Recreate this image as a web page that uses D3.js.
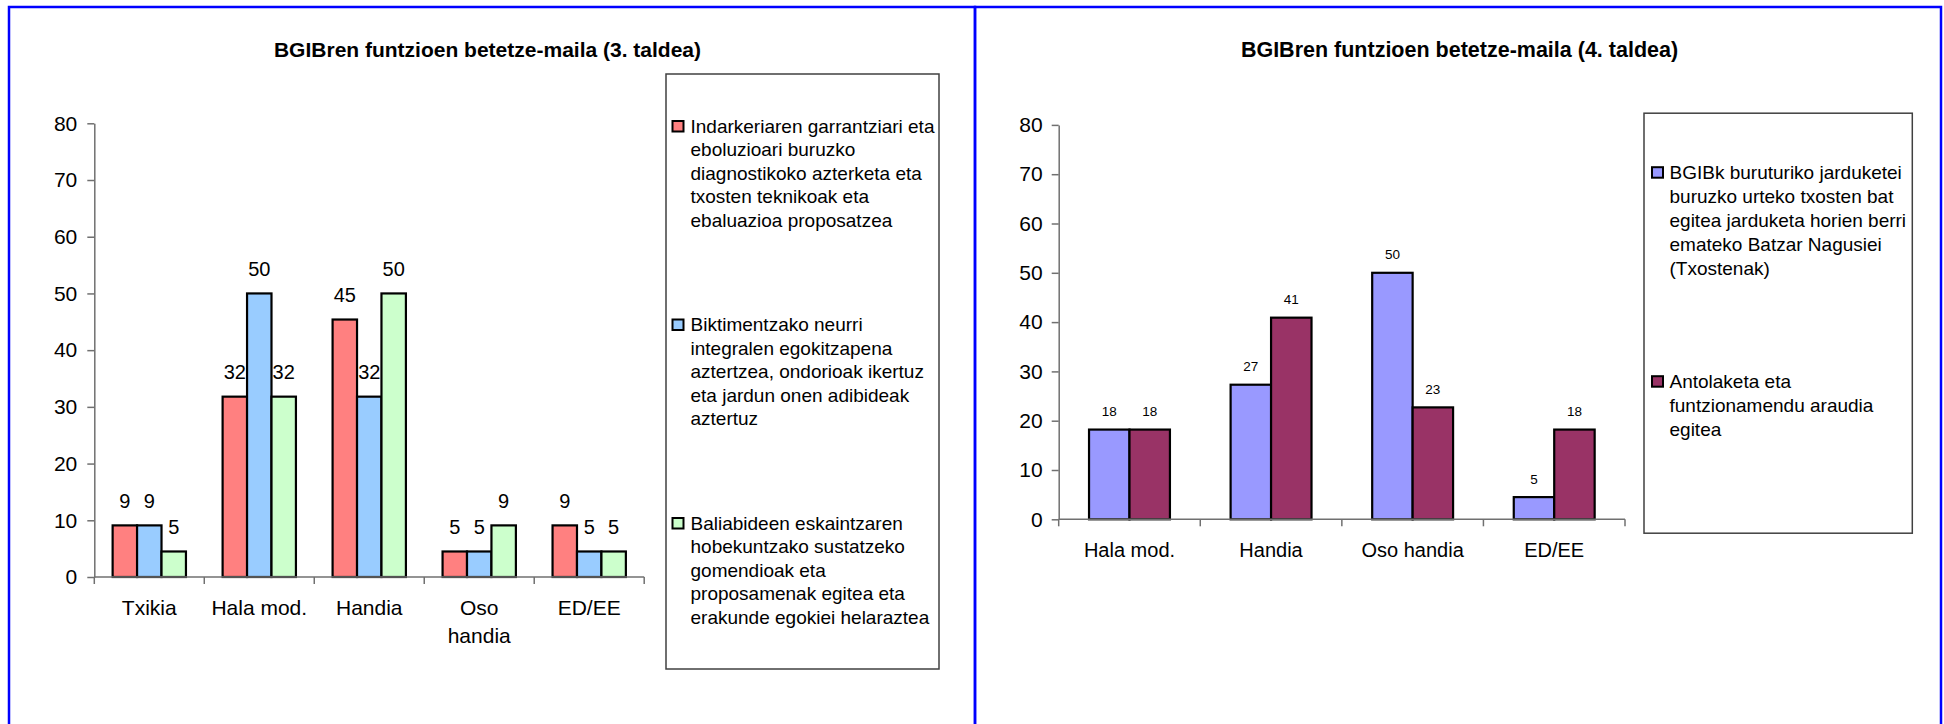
<!DOCTYPE html>
<html>
<head>
<meta charset="utf-8">
<script src="https://cdn.jsdelivr.net/npm/d3@7"></script>
<style>
  html, body { margin: 0; padding: 0; background: #fff; }
  svg { display: block; font-family: "Liberation Sans", Arial, sans-serif; }
</style>
</head>
<body>
<svg id="chart" width="1944" height="724"></svg>
<script>
// ---------- DATA ----------
const leftTitle = "BGIBren funtzioen betetze-maila (3. taldea)";
const leftCategories = ["Txikia", "Hala mod.", "Handia", "Oso handia", "ED/EE"];
const leftSeriesNames = [
  "Indarkeriaren garrantziari eta\neboluzioari buruzko\ndiagnostikoko azterketa eta\ntxosten teknikoak eta\nebaluazioa proposatzea",
  "Biktimentzako neurri\nintegralen egokitzapena\naztertzea, ondorioak ikertuz\neta jardun onen adibideak\naztertuz",
  "Baliabideen eskaintzaren\nhobekuntzako sustatzeko\ngomendioak eta\nproposamenak egitea eta\nerakunde egokiei helaraztea"
];
const leftSeriesA = [9.1, 31.8, 45.4, 4.5, 9.1];
const leftSeriesB = [9.1, 50.0, 31.8, 4.5, 4.5];
const leftSeriesC = [4.5, 31.8, 50.0, 9.1, 4.5];
const leftColors = ["#FF8080", "#99CCFF", "#CCFFCC"];

const rightTitle = "BGIBren funtzioen betetze-maila (4. taldea)";
const rightCategories = ["Hala mod.", "Handia", "Oso handia", "ED/EE"];
const rightSeriesNames = [
  "BGIBk buruturiko jarduketei\nburuzko urteko txosten bat\negitea jarduketa horien berri\nemateko Batzar Nagusiei\n(Txostenak)",
  "Antolaketa eta\nfuntzionamendu araudia\negitea"
];
const rightSeriesA = [18.2, 27.3, 50.0, 4.5];
const rightSeriesB = [18.2, 40.9, 22.7, 18.2];
const rightColors = ["#9999FF", "#993366"];

const yTicks = [0, 10, 20, 30, 40, 50, 60, 70, 80];
const yMax = 80;

// ---------- LAYOUT ----------
const svg = d3.select("#chart");

// blue panel frames
svg.append("rect").attr("x", 9).attr("y", 7).attr("width", 966).attr("height", 740)
  .attr("fill", "none").attr("stroke", "#0000FF").attr("stroke-width", 2.5);
svg.append("rect").attr("x", 975).attr("y", 7).attr("width", 966).attr("height", 740)
  .attr("fill", "none").attr("stroke", "#0000FF").attr("stroke-width", 2.5);

function wrapLabel(text, maxW, fontSize) {
  const t = svg.append("text").attr("font-size", fontSize).text(text);
  const w = t.node().getComputedTextLength();
  t.remove();
  if (w <= maxW) return [text];
  return text.split(" ");
}

function drawChart(cfg) {
  const g = svg.append("g");
  const nS = cfg.series.length;

  // title
  g.append("text")
    .attr("x", cfg.titleX).attr("y", cfg.titleY)
    .attr("text-anchor", "middle")
    .attr("font-weight", "bold")
    .attr("font-size", cfg.titleSize)
    .text(cfg.title);

  const y = d3.scaleLinear().domain([0, yMax]).range([cfg.y0, cfg.yTop]);
  const x = d3.scaleBand().domain(cfg.categories).range([cfg.x0, cfg.x1]).padding(0);
  const cw = x.bandwidth();
  const bw = cw / (nS + 1.5);
  const xs = d3.scaleBand().domain(d3.range(nS)).range([(cw - bw * nS) / 2, (cw + bw * nS) / 2]).padding(0);

  // y axis
  const yAxis = d3.axisLeft(y).tickValues(yTicks).tickSize(7).tickPadding(cfg.tickPad).tickSizeOuter(0);
  const ya = g.append("g").attr("transform", `translate(${cfg.x0},0)`).call(yAxis);
  ya.select(".domain").attr("stroke", "#707070").attr("stroke-width", 1.5);
  ya.selectAll(".tick line").attr("stroke", "#707070").attr("stroke-width", 1.5);
  ya.selectAll(".tick text").attr("font-size", cfg.tickSize).attr("fill", "#000")
    .attr("font-family", "Liberation Sans, Arial, sans-serif");

  // bars
  const rows = [];
  cfg.categories.forEach((c, ci) => {
    cfg.series.forEach((s, si) => rows.push({ c, si, v: s[ci] }));
  });
  g.selectAll("rect.bar").data(rows).enter().append("rect")
    .attr("class", "bar")
    .attr("x", d => x(d.c) + xs(d.si))
    .attr("y", d => y(d.v))
    .attr("width", xs.bandwidth())
    .attr("height", d => y(0) - y(d.v))
    .attr("fill", d => cfg.colors[d.si])
    .attr("stroke", "#000").attr("stroke-width", 2.2);

  // value labels
  g.selectAll("text.val").data(rows).enter().append("text")
    .attr("class", "val")
    .attr("x", d => x(d.c) + xs(d.si) + xs.bandwidth() / 2)
    .attr("y", d => y(d.v) - cfg.valGap)
    .attr("text-anchor", "middle")
    .attr("font-size", cfg.valSize)
    .text(d => Math.round(d.v));

  // x axis line + ticks at category boundaries
  g.append("line").attr("x1", cfg.x0).attr("x2", cfg.x1).attr("y1", y(0)).attr("y2", y(0))
    .attr("stroke", "#707070").attr("stroke-width", 1.5);
  const bounds = cfg.categories.map(c => x(c)).concat([cfg.x1]);
  g.selectAll("line.xt").data(bounds).enter().append("line")
    .attr("x1", d => d).attr("x2", d => d)
    .attr("y1", y(0)).attr("y2", y(0) + 7)
    .attr("stroke", "#707070").attr("stroke-width", 1.5);

  // category labels
  cfg.categories.forEach(c => {
    const lines = wrapLabel(c, cw - 10, cfg.catSize);
    const t = g.append("text")
      .attr("x", x(c) + cw / 2)
      .attr("y", y(0) + cfg.catGap)
      .attr("text-anchor", "middle")
      .attr("font-size", cfg.catSize);
    lines.forEach((ln, i) => {
      t.append("tspan").attr("x", x(c) + cw / 2).attr("dy", i === 0 ? 0 : cfg.catLine).text(ln);
    });
  });

  // legend
  const L = cfg.legend;
  g.append("rect").attr("x", L.x).attr("y", L.y).attr("width", L.w).attr("height", L.h)
    .attr("fill", "#fff").attr("stroke", "#404040").attr("stroke-width", 1.5);
  cfg.seriesNames.forEach((name, si) => {
    const by = L.firstBase + si * L.itemStep;
    g.append("rect")
      .attr("x", L.x + L.swX).attr("y", by - 11.5)
      .attr("width", 11).attr("height", 10.5)
      .attr("fill", cfg.colors[si]).attr("stroke", "#000").attr("stroke-width", 2);
    const t = g.append("text").attr("x", L.x + L.txX).attr("y", by).attr("font-size", L.size);
    name.split("\n").forEach((ln, i) => {
      t.append("tspan").attr("x", L.x + L.txX).attr("dy", i === 0 ? 0 : L.lineH).text(ln);
    });
  });
}

drawChart({
  title: leftTitle, titleX: 487.5, titleY: 56.7, titleSize: 21,
  categories: leftCategories,
  series: [leftSeriesA, leftSeriesB, leftSeriesC],
  seriesNames: leftSeriesNames,
  colors: leftColors,
  x0: 94.3, x1: 644.2, y0: 577, yTop: 123.3,
  tickPad: 10, tickSize: 21,
  valSize: 20, valGap: 17.5,
  catSize: 21, catGap: 38, catLine: 28,
  legend: { x: 666, y: 74, w: 273, h: 595, firstBase: 132.5, itemStep: 198.5, lineH: 23.5, swX: 6.5, txX: 24.5, size: 19 }
});

drawChart({
  title: rightTitle, titleX: 1459.5, titleY: 57.3, titleSize: 21.5,
  categories: rightCategories,
  series: [rightSeriesA, rightSeriesB],
  seriesNames: rightSeriesNames,
  colors: rightColors,
  x0: 1058.7, x1: 1625, y0: 519.3, yTop: 124.9,
  tickPad: 9, tickSize: 21,
  valSize: 13.5, valGap: 13.5,
  catSize: 20, catGap: 37.4, catLine: 28,
  legend: { x: 1644, y: 113.2, w: 268.3, h: 420, firstBase: 178.7, itemStep: 209, lineH: 24, swX: 8, txX: 25.5, size: 19 }
});
</script>
</body>
</html>
